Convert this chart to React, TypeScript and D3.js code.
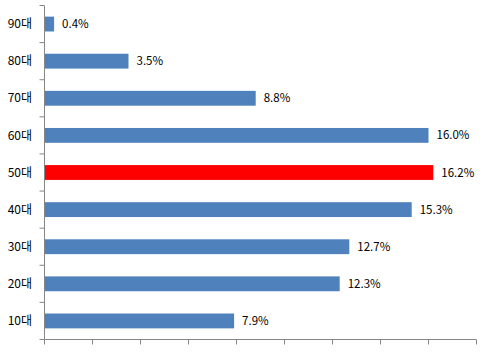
import React from "react";
import * as d3 from "d3";

const categories = ["90대", "80대", "70대", "60대", "50대", "40대", "30대", "20대", "10대"];
const values = [0.4, 3.5, 8.8, 16.0, 16.2, 15.3, 12.7, 12.3, 7.9];
const highlight = ["50대"];
const xTicks = [0, 2, 4, 6, 8, 10, 12, 14, 16, 18];

const W = 493;
const H = 357;
const left = 44.5;
const right = 476.5;
const top = 5.5;
const bottom = 339.5;

export default function App() {
  const x = d3.scaleLinear().domain([0, 18]).range([left, right]);
  const y = d3.scaleBand().domain(categories).range([top, bottom]).paddingInner(0.6).paddingOuter(0.3);
  const yb = d3.scaleBand().domain(categories).range([top, bottom]);
  const axisColor = "#868686";
  const font = "'Noto Sans CJK KR', 'Noto Sans', sans-serif";
  return (
    <svg width={W} height={H} style={{ position: "absolute", left: 0, top: 0 }}>
      <rect width={W} height={H} fill="#fff" />
      {categories.map((c, i) => (
        <g key={c}>
          <rect
            x={x(0)}
            y={y(c)!}
            width={x(values[i]) - x(0)}
            height={y.bandwidth()}
            fill={highlight.includes(c) ? "#FF0000" : "#4F81BD"}
          />
          <text
            x={x(values[i]) + 8}
            y={y(c)! + y.bandwidth() / 2}
            dy="0.35em"
            fontSize={11.5}
            fontFamily={font}
            fill="#000"
          >
            {values[i].toFixed(1)}%
          </text>
          <text
            x={32}
            y={yb(c)! + yb.bandwidth() / 2}
            dy="0.35em"
            fontSize={12}
            fontFamily={font}
            textAnchor="end"
            fill="#000"
          >
            {c}
          </text>
        </g>
      ))}
      <line x1={left} x2={left} y1={top} y2={bottom} stroke={axisColor} />
      <line x1={left} x2={right} y1={bottom} y2={bottom} stroke={axisColor} />
      {[...categories.map((c) => yb(c)!), bottom].map((v, i) => (
        <line key={"yt" + i} x1={left - 5} x2={left} y1={v} y2={v} stroke={axisColor} />
      ))}
      {xTicks.map((t) => (
        <line key={"xt" + t} x1={x(t)} x2={x(t)} y1={bottom} y2={bottom + 5} stroke={axisColor} />
      ))}
    </svg>
  );
}
